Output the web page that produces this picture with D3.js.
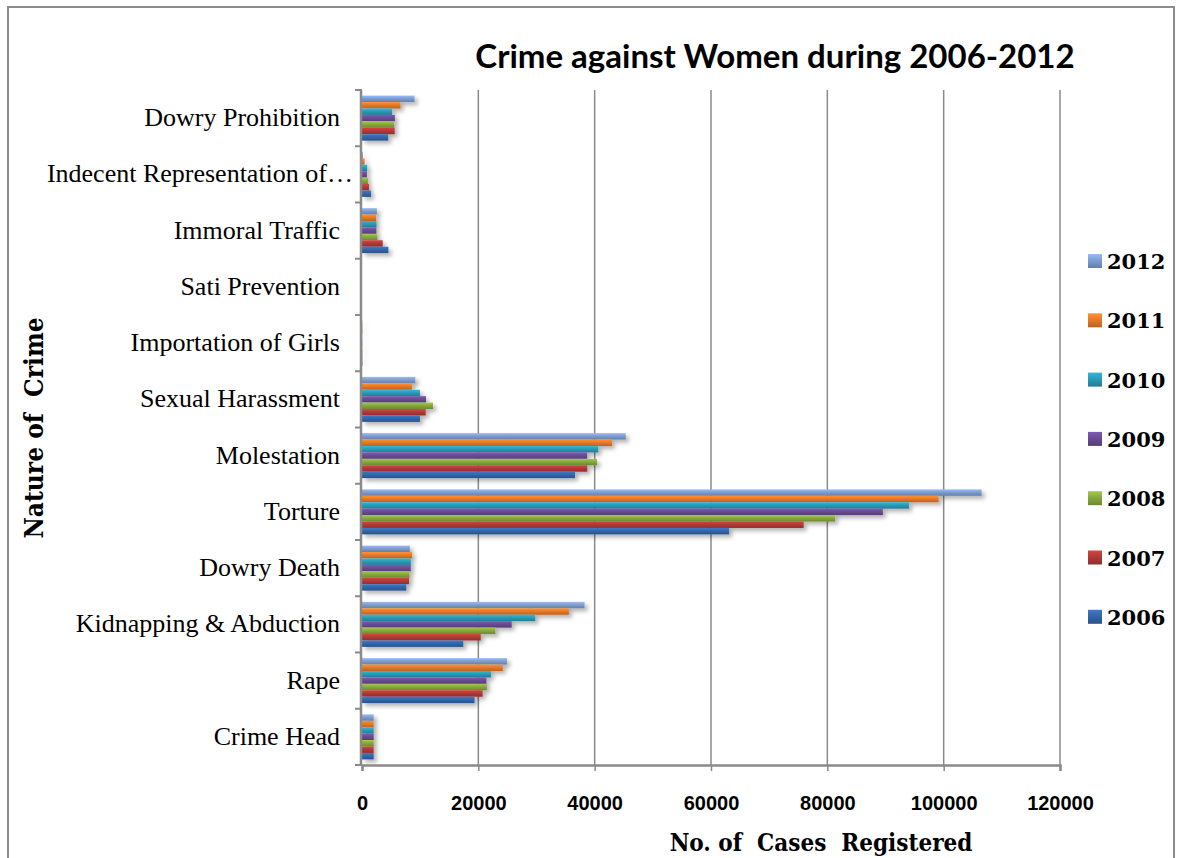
<!DOCTYPE html>
<html>
<head>
<meta charset="utf-8">
<script src="https://cdn.jsdelivr.net/npm/d3@7"></script>
<style>
  body { margin: 0; background: #fff; }
  svg { display: block; }
  text { white-space: pre; }
</style>
</head>
<body>
<svg width="1178" height="858"></svg>
<script>
// Categories, top to bottom as drawn
const categories = ["Dowry Prohibition", "Indecent Representation of…", "Immoral Traffic",
  "Sati Prevention", "Importation of Girls", "Sexual Harassment", "Molestation",
  "Torture", "Dowry Death", "Kidnapping & Abduction", "Rape", "Crime Head"];

// Years, legend order (top to bottom)
const years = ["2012", "2011", "2010", "2009", "2008", "2007", "2006"];

// Values per year, same order as categories
const v2006 = [4504, 1562, 4541, 0, 67, 9966, 36617, 63128, 7618, 17414, 19348, 2006];
const v2007 = [5623, 1200, 3568, 0, 61, 10950, 38734, 75930, 8093, 20416, 20737, 2007];
const v2008 = [5555, 1025, 2659, 1, 67, 12214, 40413, 81344, 8172, 22939, 21467, 2008];
const v2009 = [5650, 845, 2474, 0, 48, 11009, 38711, 89546, 8383, 25741, 21397, 2009];
const v2010 = [5182, 895, 2499, 0, 36, 9961, 40613, 94041, 8391, 29795, 22172, 2010];
const v2011 = [6619, 453, 2435, 1, 80, 8570, 42968, 99135, 8618, 35565, 24206, 2011];
const v2012 = [9038, 141, 2563, 0, 59, 9173, 45351, 106527, 8233, 38262, 24923, 2012];

const xTicks = [0, 20000, 40000, 60000, 80000, 100000, 120000];
const colors = ["#7f9dd0", "#e8792a", "#2a9bb7", "#6b4b95", "#87a93e", "#b23a37", "#3466aa"];

const seriesValues = {"2006": v2006, "2007": v2007, "2008": v2008, "2009": v2009,
  "2010": v2010, "2011": v2011, "2012": v2012};

const svg = d3.select("svg");
const plot = {left: 362, right: 1060, top: 90, bottom: 765};

// outer frame
svg.append("rect")
   .attr("x", 8).attr("y", 7)
   .attr("width", 1166).attr("height", 870)
   .attr("fill", "none")
   .attr("stroke", "#8c8c8c")
   .attr("stroke-width", 2);

const defs = svg.append("defs");
const shadow = defs.append("filter").attr("id", "shadow")
   .attr("x", "-5%").attr("y", "-50%").attr("width", "115%").attr("height", "250%");
shadow.append("feDropShadow")
   .attr("dx", 3).attr("dy", 3).attr("stdDeviation", 2)
   .attr("flood-color", "#000").attr("flood-opacity", 0.3);

const color = d3.scaleOrdinal().domain(years).range(colors);

// vertical gradients giving the bars their rounded look
years.forEach(yr => {
  const c = d3.color(color(yr));
  const g = defs.append("linearGradient").attr("id", "g" + yr)
     .attr("x1", 0).attr("y1", 0).attr("x2", 0).attr("y2", 1);
  g.append("stop").attr("offset", "0%").attr("stop-color", c.brighter(0.5));
  g.append("stop").attr("offset", "45%").attr("stop-color", c);
  g.append("stop").attr("offset", "100%").attr("stop-color", c.darker(0.6));
});

const x = d3.scaleLinear().domain([0, 120000]).range([plot.left, plot.right]);
const y = d3.scaleBand().domain(categories).range([plot.top, plot.bottom])
   .paddingInner(0.2).paddingOuter(0.1);
const ySub = d3.scaleBand().domain(years).range([0, y.bandwidth()]);

// gridlines
svg.append("g")
   .selectAll("line")
   .data(xTicks.slice(1))
   .join("line")
   .attr("x1", d => x(d)).attr("x2", d => x(d))
   .attr("y1", plot.top).attr("y2", plot.bottom)
   .attr("stroke", "#8a8a8a")
   .attr("stroke-width", 1.5);

// bars
const rows = [];
years.forEach(yr => {
  categories.forEach((c, i) => rows.push({cat: c, year: yr, value: seriesValues[yr][i]}));
});

svg.append("g")
   .attr("filter", "url(#shadow)")
   .selectAll("rect")
   .data(rows)
   .join("rect")
   .attr("x", x(0))
   .attr("y", d => y(d.cat) + ySub(d.year))
   .attr("width", d => x(d.value) - x(0))
   .attr("height", ySub.bandwidth())
   .attr("fill", d => `url(#g${d.year})`);

// y axis with boundary ticks
const step = y.step();
const yAxis = svg.append("g");
yAxis.append("line")
   .attr("x1", plot.left - 1).attr("x2", plot.left - 1)
   .attr("y1", plot.top).attr("y2", plot.bottom)
   .attr("stroke", "#8a8a8a").attr("stroke-width", 2.5);
yAxis.selectAll(".tk")
   .data(d3.range(categories.length + 1))
   .join("line")
   .attr("x1", plot.left - 7).attr("x2", plot.left)
   .attr("y1", i => plot.top + i * step).attr("y2", i => plot.top + i * step)
   .attr("stroke", "#8a8a8a").attr("stroke-width", 2);

yAxis.selectAll("text")
   .data(categories)
   .join("text")
   .attr("x", d => d.endsWith("…") ? 353 : 340)
   .attr("y", d => y(d) + y.bandwidth() / 2 + 8)
   .attr("text-anchor", "end")
   .style("font-family", "'Liberation Serif', serif")
   .style("font-size", "26px")
   .attr("fill", "#000")
   .text(d => d);

// x axis
const xAxis = svg.append("g")
   .attr("transform", `translate(0,${plot.bottom})`)
   .call(d3.axisBottom(x).tickValues(xTicks).tickSize(6).tickPadding(25).tickFormat(d3.format("d")));
xAxis.select(".domain").attr("stroke", "#8a8a8a").attr("stroke-width", 2.5);
xAxis.selectAll(".tick line").attr("stroke", "#8a8a8a").attr("stroke-width", 1.5);
xAxis.selectAll(".tick text")
   .style("font-family", "'Liberation Sans Narrow', 'Arial Narrow', sans-serif")
   .style("font-weight", "bold")
   .style("font-size", "20px")
   .attr("fill", "#000");

// titles
svg.append("text")
   .attr("x", 775).attr("y", 68)
   .attr("text-anchor", "middle")
   .style("font-family", "Lato, sans-serif")
   .style("font-weight", "bold")
   .style("font-size", "33px")
   .text("Crime against Women during 2006-2012");

svg.append("text")
   .attr("x", 821).attr("y", 851)
   .attr("text-anchor", "middle")
   .style("font-family", "'DejaVu Serif Condensed', 'DejaVu Serif', serif")
   .style("font-weight", "bold")
   .style("font-size", "24px")
   .text("No. of  Cases  Registered");

svg.append("text")
   .attr("transform", "translate(43,428) rotate(-90)")
   .attr("text-anchor", "middle")
   .style("font-family", "'DejaVu Serif Condensed', 'DejaVu Serif', serif")
   .style("font-weight", "bold")
   .style("font-size", "26px")
   .text("Nature of  Crime");

// legend
const legend = svg.append("g");
const item = legend.selectAll("g")
   .data(years)
   .join("g")
   .attr("transform", (d, i) => `translate(1088,${261 + i * 59.3})`);
item.append("rect")
   .attr("x", 0).attr("y", -7)
   .attr("width", 14).attr("height", 14)
   .attr("fill", d => `url(#g${d})`);
item.append("text")
   .attr("x", 19).attr("y", 8)
   .style("font-family", "'DejaVu Serif', serif")
   .style("font-weight", "bold")
   .style("font-size", "21px")
   .text(d => d);
</script>
</body>
</html>
